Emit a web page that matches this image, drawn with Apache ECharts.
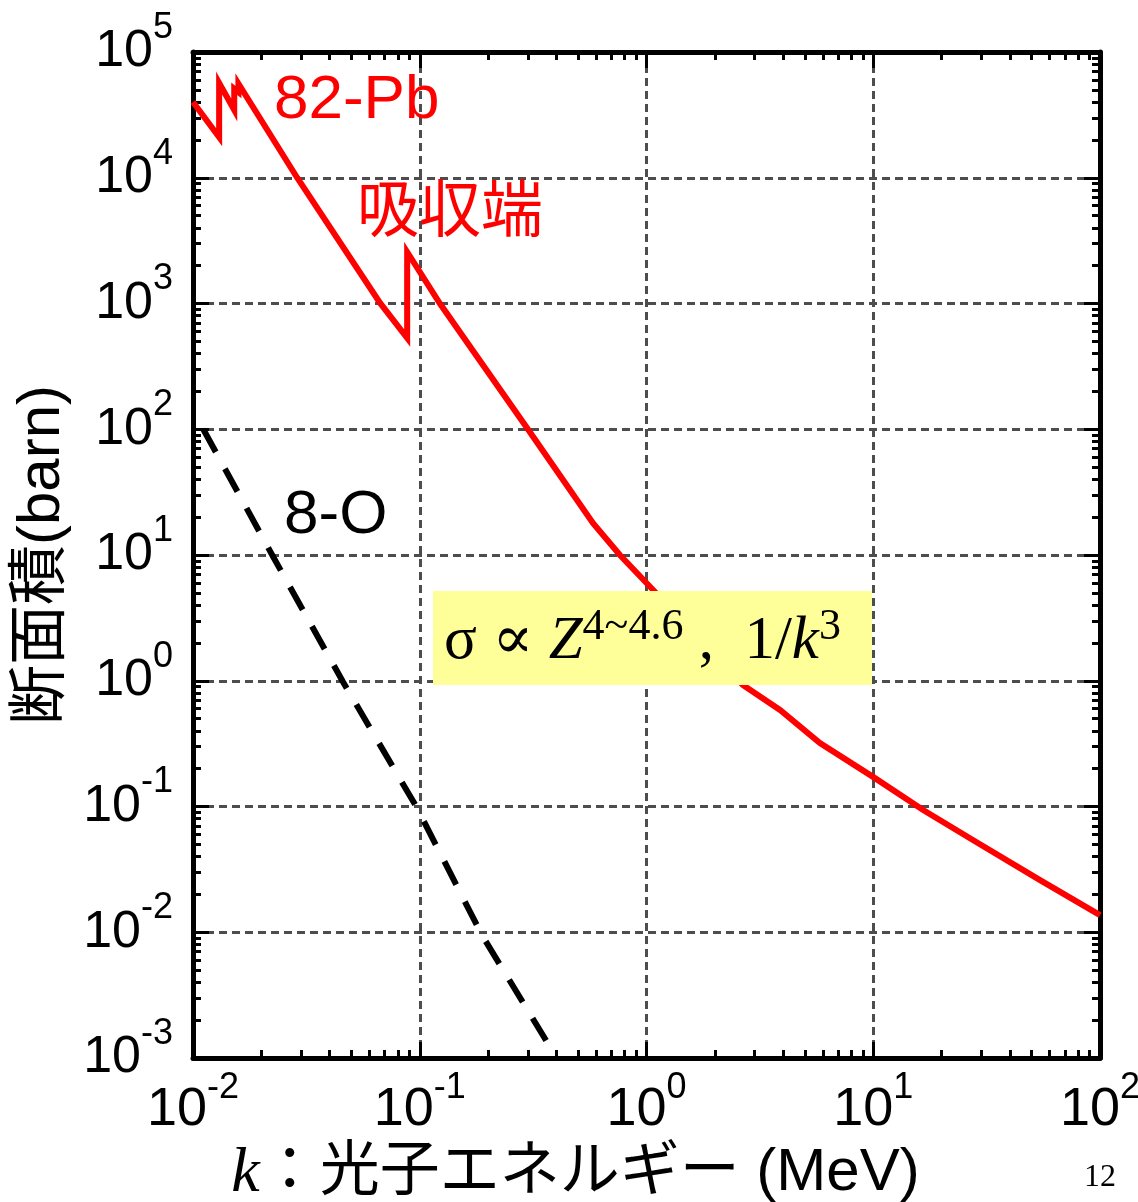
<!DOCTYPE html>
<html><head><meta charset="utf-8">
<script src="https://cdn.jsdelivr.net/npm/echarts@6/dist/echarts.min.js"></script>
<style>html,body{margin:0;padding:0;background:#fff}#c{width:1138px;height:1202px}</style>
</head><body><div id="c"></div>
<script>
// ---- data ----
const pbEnergy = [0.01, 0.01304, 0.01304, 0.0152, 0.0152, 0.01586, 0.01586, 0.0288, 0.0668, 0.088, 0.088, 0.1227, 0.30, 0.581, 0.763, 1.07, 2.66, 3.88, 5.82, 9.98, 16.6, 27.5, 54.4, 100];
const pbSigma  = [4.0e4, 2.1e4, 5.66e4, 3.46e4, 5.1e4, 4.8e4, 5.6e4, 1.0e4, 1.01e3, 532, 2570, 1000, 100, 17.9, 10, 5.27, 0.925, 0.585, 0.32, 0.172, 0.0938, 0.0542, 0.026, 0.0137];
const oEnergy = [0.0111, 0.0226, 0.0459, 0.0973, 0.188, 0.387];
const oSigma  = [100, 9.64, 0.977, 0.0973, 0.0095, 0.00112];
const xMajorTicks = [0.01, 0.1, 1, 10, 100];
const yMajorTicks = [1e-3, 1e-2, 1e-1, 1, 10, 100, 1e3, 1e4, 1e5];
const pbLabel = '82-Pb';
const edgeLabel = '吸収端';
const oLabel = '8-O';
const formulaText = '{a|σ ∝ }{z|Z}{s|4~4.6}{a| ,  }{a|1/}{z|k}{s|3}';
const yTitle = '断面積(barn)';
const xTitleK = 'k';
const xTitleRest = '：光子エネルギー (MeV)';
const pageNo = '12';

function minorsOf(majors) {
  const out = [];
  for (let i = 0; i < majors.length - 1; i++) for (let m = 2; m <= 9; m++) out.push(majors[i] * m);
  return out;
}
const xMinorTicks = minorsOf(xMajorTicks);
const yMinorTicks = minorsOf(yMajorTicks);

const SANS = '"Liberation Sans", Arial, "Noto Sans CJK JP", sans-serif';
const NARROW = '"Liberation Sans Narrow", "Arial Narrow", "Liberation Sans", sans-serif';
const SERIF = '"Liberation Serif", "Times New Roman", "DejaVu Serif", serif';

function expFmt(v) {
  const e = Math.round(Math.log10(v));
  return '{b|10}{s|' + (e < 0 ? '-' + (-e) : e) + '}';
}
const gridLine = { show: true, lineStyle: { color: '#4d4d4d', width: 3, type: [8, 5] } };

function makeX(pos, major, withLabel) {
  return {
    type: 'log', logBase: 10, min: 0.01, max: 100, position: pos,
    axisLine: { show: major, lineStyle: { color: '#000', width: 5 } },
    axisTick: { show: true, inside: true, length: major ? 16 : 8, lineStyle: { color: '#000', width: 3 },
      customValues: major ? xMajorTicks : xMinorTicks },
    axisLabel: withLabel ? {
      show: true, customValues: xMajorTicks, margin: 12, formatter: expFmt, color: '#000',
      rich: { b: { fontSize: 54, fontFamily: NARROW, color: '#000' },
              s: { fontSize: 36, fontFamily: NARROW, color: '#000', padding: [0, 0, 44, 0] } }
    } : { show: false },
    splitLine: (withLabel ? gridLine : { show: false })
  };
}
function makeY(pos, major, withLabel) {
  return {
    type: 'log', logBase: 10, min: 1e-3, max: 1e5, position: pos,
    axisLine: { show: major, lineStyle: { color: '#000', width: 5 } },
    axisTick: { show: true, inside: true, length: major ? 16 : 8, lineStyle: { color: '#000', width: 3 },
      customValues: major ? yMajorTicks : yMinorTicks },
    axisLabel: withLabel ? {
      show: true, customValues: yMajorTicks, margin: 20, formatter: expFmt, color: '#000',
      rich: { b: { fontSize: 52, fontFamily: SANS, color: '#000' },
              s: { fontSize: 36, fontFamily: SANS, color: '#000', padding: [0, 0, 48, 0] } }
    } : { show: false },
    splitLine: (withLabel ? gridLine : { show: false })
  };
}

const xAxes = [makeX('bottom', true, true), makeX('bottom', false, false), makeX('top', true, false), makeX('top', false, false)];
const yAxes = [makeY('left', true, true), makeY('left', false, false), makeY('right', true, false), makeY('right', false, false)];

xAxes[0].name = '{k|' + xTitleK + '}{t|' + xTitleRest + '}';
xAxes[0].nameLocation = 'middle';
xAxes[0].nameGap = 80;
xAxes[0].nameTextStyle = {
  padding: [0, 142, 0, 0],
  rich: { k: { fontSize: 64, fontStyle: 'italic', fontFamily: SERIF, color: '#000' },
          t: { fontSize: 60, fontFamily: SANS, color: '#000' } }
};
yAxes[0].name = yTitle;
yAxes[0].nameLocation = 'middle';
yAxes[0].nameRotate = 90;
yAxes[0].nameGap = 112;
yAxes[0].nameTextStyle = { fontSize: 60, fontFamily: SANS, color: '#000' };

const chart = echarts.init(document.getElementById('c'), null, { renderer: 'canvas' });
chart.setOption({
  animation: false,
  backgroundColor: '#fff',
  grid: { left: 193, top: 52, right: 38, bottom: 144, containLabel: false, outerBoundsMode: 'none' },
  xAxis: xAxes,
  yAxis: yAxes,
  series: [
    { type: 'line', name: pbLabel, xAxisIndex: 0, yAxisIndex: 0, showSymbol: false, smooth: false,
      data: pbEnergy.map((e, i) => [e, pbSigma[i]]),
      lineStyle: { color: '#ff0000', width: 6, join: 'miter' }, z: 3 },
    { type: 'line', name: oLabel, xAxisIndex: 0, yAxisIndex: 0, showSymbol: false, smooth: false,
      data: oEnergy.map((e, i) => [e, oSigma[i]]),
      lineStyle: { color: '#000', width: 6, type: [26, 19] }, z: 3 }
  ],
  graphic: [
    { type: 'rect', z: 100, shape: { x: 433, y: 591, width: 439, height: 94 }, style: { fill: '#ffff99' } },
    { type: 'text', z: 101, style: { x: 444, y: 642, text: formulaText, verticalAlign: 'middle',
        rich: { a: { fontSize: 61, fontFamily: SERIF, fill: '#000' },
                z: { fontSize: 61, fontFamily: SERIF, fontStyle: 'italic', fill: '#000' },
                s: { fontSize: 44, fontFamily: SERIF, fill: '#000', padding: [0, 0, 30, 0] } } } },
    { type: 'text', z: 101, style: { x: 274, y: 101, text: pbLabel, verticalAlign: 'middle', fontSize: 62, fontFamily: SANS, fill: '#ff0000' } },
    { type: 'text', z: 101, style: { x: 357, y: 208, text: edgeLabel, verticalAlign: 'middle', fontSize: 62, fontFamily: '"Noto Sans CJK JP", sans-serif', fill: '#ff0000' } },
    { type: 'text', z: 101, style: { x: 284, y: 516, text: oLabel, verticalAlign: 'middle', fontSize: 62, fontFamily: SANS, fill: '#000' } },
    { type: 'text', z: 101, style: { x: 1100, y: 1178, text: pageNo, align: 'center', verticalAlign: 'middle', fontSize: 32, fontFamily: SERIF, fill: '#000' } }
  ]
});
</script>
</body></html>
